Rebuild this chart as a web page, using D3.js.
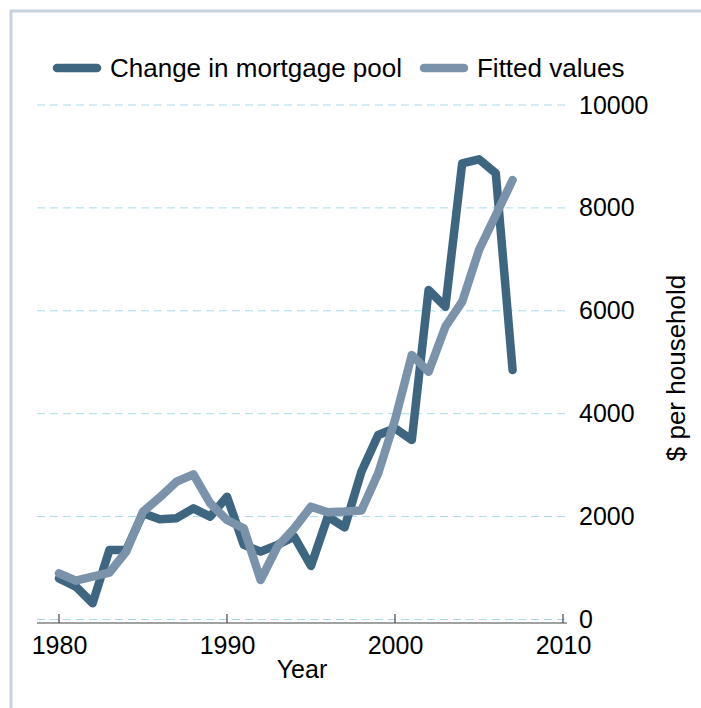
<!DOCTYPE html>
<html>
<head>
<meta charset="utf-8">
<script src="https://cdnjs.cloudflare.com/ajax/libs/d3/7.8.5/d3.min.js"></script>
<style>
    body { margin: 0; background: #fff; }
    text { font-family: "Liberation Sans", Arial, sans-serif; fill: #000; }
</style>
</head>
<body>
<div id="chart"></div>
<script>
var years = [1980, 1981, 1982, 1983, 1984, 1985, 1986, 1987, 1988, 1989,
    1990, 1991, 1992, 1993, 1994, 1995, 1996, 1997, 1998, 1999,
    2000, 2001, 2002, 2003, 2004, 2005, 2006, 2007];

var mortgagePool = [800, 640, 315, 1350, 1350, 2064, 1950, 1970, 2160, 2000,
    2387, 1450, 1320, 1450, 1610, 1040, 2000, 1790, 2870, 3586,
    3716, 3490, 6404, 6080, 8867, 8944, 8672, 4849];

var fitted = [898, 755, 832, 910, 1320, 2095, 2375, 2679, 2822, 2258,
    1934, 1772, 768, 1415, 1772, 2193, 2084, 2097, 2120, 2841,
    3877, 5141, 4817, 5692, 6177, 7182, 7862, 8542];

var seriesNames = ["Change in mortgage pool", "Fitted values"];
var seriesColors = ["#3e6680", "#7b93aa"];

var xTicks = [1980, 1990, 2000, 2010];
var yTicks = [0, 2000, 4000, 6000, 8000, 10000];

var width = 701,
    height = 708;

var svg = d3.select("#chart")
    .append("svg")
    .attr("width", width)
    .attr("height", height);

// outer frame (only top and left edges show)
svg.append("rect")
    .attr("x", 11)
    .attr("y", 11)
    .attr("width", 900)
    .attr("height", 900)
    .attr("fill", "none")
    .attr("stroke", "#c6d3df")
    .attr("stroke-width", 3);

var plotLeft = 37, plotRight = 567;

var x = d3.scaleLinear().domain([1980, 2010]).range([59, 563]);
var y = d3.scaleLinear().domain([0, 10000]).range([619.5, 105]);

// gridlines
svg.append("g")
    .selectAll("line")
    .data(yTicks)
    .enter()
    .append("line")
    .attr("x1", plotLeft)
    .attr("x2", plotRight)
    .attr("y1", d => y(d))
    .attr("y2", d => y(d))
    .attr("stroke", "#a9d9e9")
    .attr("stroke-width", 1)
    .attr("stroke-dasharray", "8,5");

// y labels on the right
var yAxis = d3.axisRight(y)
    .tickValues(yTicks)
    .tickSize(0)
    .tickPadding(0)
    .tickFormat(d3.format("d"));

svg.append("g")
    .attr("transform", "translate(" + 579 + ",0)")
    .call(yAxis)
    .call(g => g.select(".domain").remove())
    .selectAll("text")
    .style("font-size", "25px")
    .attr("fill", "#000");

// x axis
var xAxis = d3.axisBottom(x)
    .tickValues(xTicks)
    .tickSize(0)
    .tickPadding(13)
    .tickFormat(d3.format("d"));

var xg = svg.append("g")
    .attr("transform", "translate(0," + 623 + ")")
    .call(xAxis);

xg.select(".domain").remove();
xg.selectAll("text")
    .style("font-size", "25px")
    .attr("fill", "#000");

svg.append("line")
    .attr("x1", plotLeft)
    .attr("x2", plotRight)
    .attr("y1", 623)
    .attr("y2", 623)
    .attr("stroke", "#444")
    .attr("stroke-width", 1.2);

svg.append("g")
    .selectAll("line")
    .data(xTicks)
    .enter()
    .append("line")
    .attr("x1", d => x(d))
    .attr("x2", d => x(d))
    .attr("y1", 614)
    .attr("y2", 623)
    .attr("stroke", "#444")
    .attr("stroke-width", 1.2);

// axis titles
svg.append("text")
    .attr("x", (plotLeft + plotRight) / 2)
    .attr("y", 678)
    .attr("text-anchor", "middle")
    .style("font-size", "25px")
    .text("Year");

svg.append("text")
    .attr("transform", "translate(" + 685 + "," + 368 + ") rotate(-90)")
    .attr("text-anchor", "middle")
    .style("font-size", "26px")
    .text("$ per household");

// lines
var line = d3.line()
    .x((d, i) => x(years[i]))
    .y(d => y(d));

[mortgagePool, fitted].forEach((vals, k) => {
    svg.append("path")
        .datum(vals)
        .attr("d", line)
        .attr("fill", "none")
        .attr("stroke", seriesColors[k])
        .attr("stroke-width", 8.5)
        .attr("stroke-linejoin", "round")
        .attr("stroke-linecap", "round");
});

// legend
var legend = svg.append("g")
    .attr("transform", "translate(" + 57 + "," + 68 + ")");

var lx = 0;
seriesNames.forEach((name, k) => {
    legend.append("line")
        .attr("x1", lx)
        .attr("x2", lx + 40)
        .attr("y1", 0)
        .attr("y2", 0)
        .attr("stroke", seriesColors[k])
        .attr("stroke-width", 8.5)
        .attr("stroke-linecap", "round");
    var t = legend.append("text")
        .attr("x", lx + 53)
        .attr("y", 0)
        .attr("dy", "0.36em")
        .style("font-size", "26px")
        .text(name);
    lx += 53 + t.node().getComputedTextLength() + 22;
});
</script>
</body>
</html>
